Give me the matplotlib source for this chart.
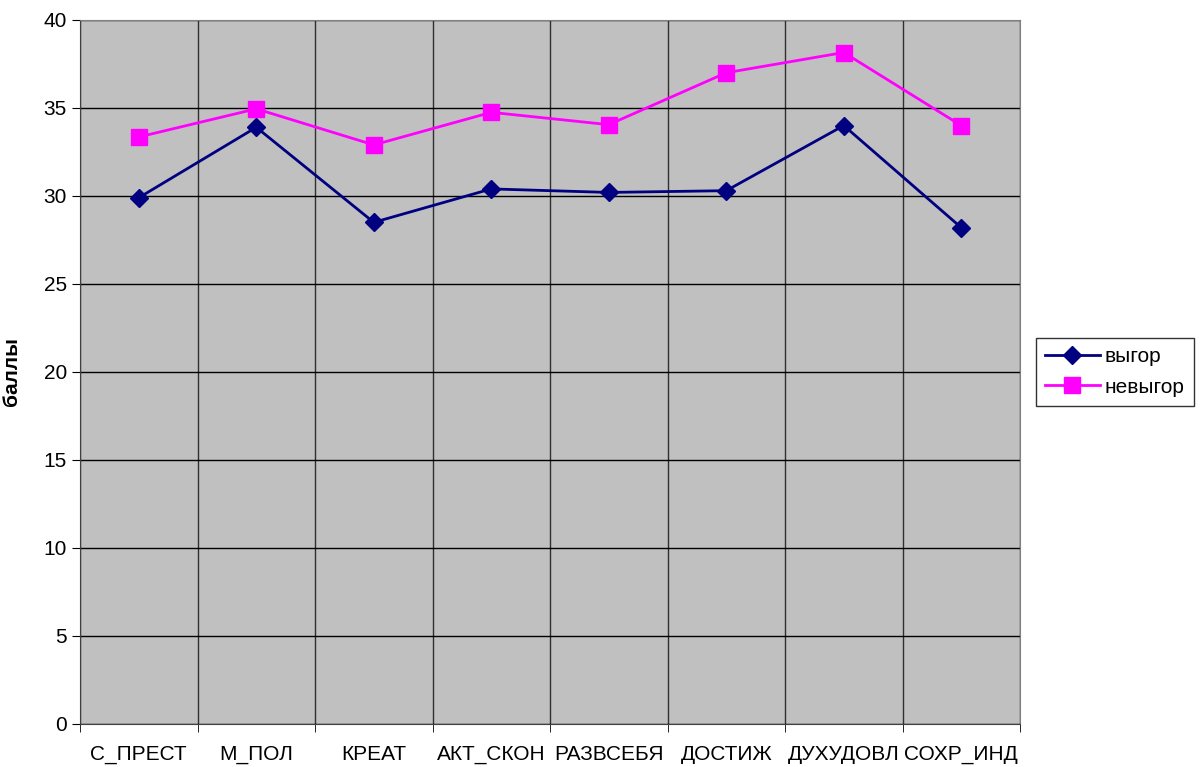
import matplotlib
matplotlib.use("Agg")
import matplotlib.pyplot as plt
import numpy as np

plt.rcParams['font.family'] = ['Liberation Sans', 'DejaVu Sans']

categories = ["С_ПРЕСТ", "М_ПОЛ", "КРЕАТ", "АКТ_СКОН", "РАЗВСЕБЯ", "ДОСТИЖ", "ДУХУДОВЛ", "СОХР_ИНД"]
vygor = [29.9, 33.9, 28.5, 30.4, 30.2, 30.3, 34.0, 28.2]
nevygor = [33.35, 34.95, 32.9, 34.75, 34.05, 37.0, 38.15, 34.0]

fig = plt.figure(figsize=(12, 7.67), dpi=100)
ax = fig.add_axes([0.0667, 0.0561, 0.7833, 0.9179])
ax.set_facecolor('#c0c0c0')

x = np.arange(len(categories))
ax.plot(x, vygor, color='#000080', marker='D', markersize=9, linewidth=2, label='выгор')
ax.plot(x, nevygor, color='#ff00ff', marker='s', markersize=11, linewidth=2, label='невыгор')

ax.set_xlim(-0.5, len(categories) - 0.5)
ax.set_ylim(0, 40)
ax.set_yticks(np.arange(0, 41, 5))
ax.set_xticks(x)
ax.set_xticklabels(categories)
ax.set_xticks(np.arange(-0.5, len(categories), 1), minor=True)
ax.tick_params(axis='x', which='major', length=0, labelsize=15, pad=15)
ax.tick_params(axis='x', which='minor', length=6, direction='out')
ax.tick_params(axis='y', labelsize=15, length=6, direction='out')
ax.grid(axis='y', which='major', color='black', linewidth=1)
ax.grid(axis='x', which='minor', color='#303030', linewidth=1)
ax.set_axisbelow(True)
for s in ['top', 'right']:
    ax.spines[s].set_color('#808080')
ax.spines['left'].set_color('#404040')
ax.spines['bottom'].set_color('#404040')

ax.set_ylabel('баллы', fontsize=15, fontweight='bold', labelpad=16)

leg = ax.legend(loc='center left', bbox_to_anchor=(1.017, 0.5), fontsize=15,
                frameon=True, fancybox=False, edgecolor='black', borderpad=0.45,
                borderaxespad=0, handlelength=2.6, handletextpad=0.25,
                labelspacing=0.55)
leg.get_frame().set_linewidth(1)

fig.savefig('out.png', dpi=100)
